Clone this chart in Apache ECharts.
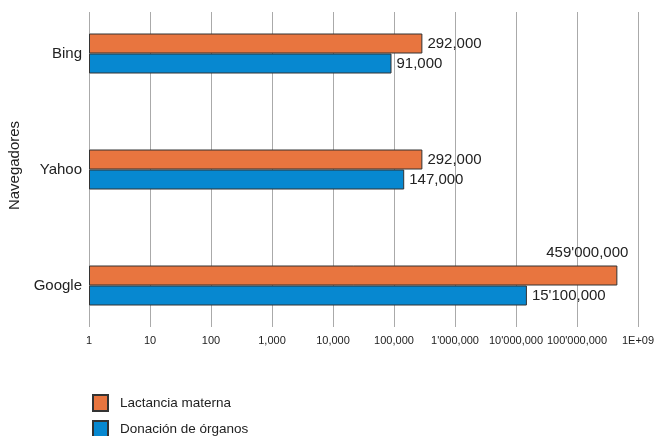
<!DOCTYPE html>
<html>
<head>
<meta charset="utf-8">
<style>html,body{margin:0;padding:0;background:#fff;}#c{width:659px;height:436px;}</style>
<script src="https://cdn.jsdelivr.net/npm/echarts@6/dist/echarts.min.js"></script>
</head>
<body>
<div id="c"></div>
<script>
var categories = ['Bing', 'Yahoo', 'Google'];
var lactancia = [292000, 292000, 459000000];
var donacion = [91000, 147000, 15100000];
var lactanciaLabels = ['292,000', '292,000', "459'000,000"];
var donacionLabels = ['91,000', '147,000', "15'100,000"];
var tickLabels = ['1', '10', '100', '1,000', '10,000', '100,000', "1'000,000", "10'000,000", "100'000,000", '1E+09'];
var seriesNames = ['Lactancia materna', 'Donación de órganos'];
var axisName = 'Navegadores';

var FONT = 'Liberation Sans, Arial, sans-serif';
var TXT = '#222';
var ORANGE = '#E8753F';
var BLUE = '#0788D0';

var chart = echarts.init(document.getElementById('c'), null, {renderer: 'canvas'});

var lacData = lactancia.map(function (v, i) {
  var d = {value: v};
  if (i === 2) {
    d.label = {position: ['100%', 0], align: 'right', verticalAlign: 'bottom', offset: [11, -5]};
  }
  return d;
});

function legendFor(name, top) {
  return {
    orient: 'vertical', left: 92, top: top, padding: 0,
    itemWidth: 15, itemHeight: 16,
    icon: 'rect',
    textStyle: {fontSize: 13.5, color: TXT, fontFamily: FONT, padding: [0, 0, 0, 7]},
    data: [name]
  };
}

chart.setOption({
  animation: false,
  textStyle: {fontFamily: FONT},
  grid: [
    {left: 89, right: 21, top: 12, bottom: 109, outerBoundsMode: 'none'},
    {left: 89, right: 21, top: 53.5, bottom: 150.5, outerBoundsMode: 'none'}
  ],
  legend: [legendFor(seriesNames[0], 394), legendFor(seriesNames[1], 420)],
  xAxis: [
    {
      gridIndex: 0, type: 'log', logBase: 10, min: 1, max: 1e9,
      axisLine: {show: false}, axisTick: {show: false},
      splitLine: {show: true, lineStyle: {color: '#aaa', width: 1}},
      axisLabel: {
        fontSize: 11, color: TXT, margin: 8, fontFamily: FONT,
        formatter: function (v) { return tickLabels[Math.round(Math.log10(v))]; }
      }
    },
    {
      gridIndex: 1, type: 'log', logBase: 10, min: 1, max: 1e9, show: false,
      splitLine: {show: false}
    }
  ],
  yAxis: [
    {gridIndex: 0, type: 'value', show: false, splitLine: {show: false}},
    {
      gridIndex: 1, type: 'category', data: categories, inverse: true, boundaryGap: false,
      axisLine: {show: false}, axisTick: {show: false}, splitLine: {show: false},
      axisLabel: {fontSize: 15, color: TXT, margin: 7, fontFamily: FONT},
      name: axisName, nameLocation: 'middle', nameRotate: 90, nameGap: 65,
      nameTextStyle: {fontSize: 15, color: TXT, fontFamily: FONT, padding: [0, 0, 0, 8]}
    }
  ],
  series: [
    {
      name: seriesNames[0], type: 'bar', xAxisIndex: 1, yAxisIndex: 1,
      data: lacData, barWidth: 20, barGap: '0%', clip: false,
      itemStyle: {color: ORANGE, borderColor: '#333', borderWidth: 1},
      label: {
        show: true, position: 'right', distance: 5, fontSize: 15, color: TXT, fontFamily: FONT,
        formatter: function (p) { return lactanciaLabels[p.dataIndex]; }
      }
    },
    {
      name: seriesNames[1], type: 'bar', xAxisIndex: 1, yAxisIndex: 1,
      data: donacion, barWidth: 20, barGap: '0%', clip: false,
      itemStyle: {color: BLUE, borderColor: '#333', borderWidth: 1},
      label: {
        show: true, position: 'right', distance: 5, fontSize: 15, color: TXT, fontFamily: FONT,
        formatter: function (p) { return donacionLabels[p.dataIndex]; }
      }
    }
  ]
});
</script>
</body>
</html>
